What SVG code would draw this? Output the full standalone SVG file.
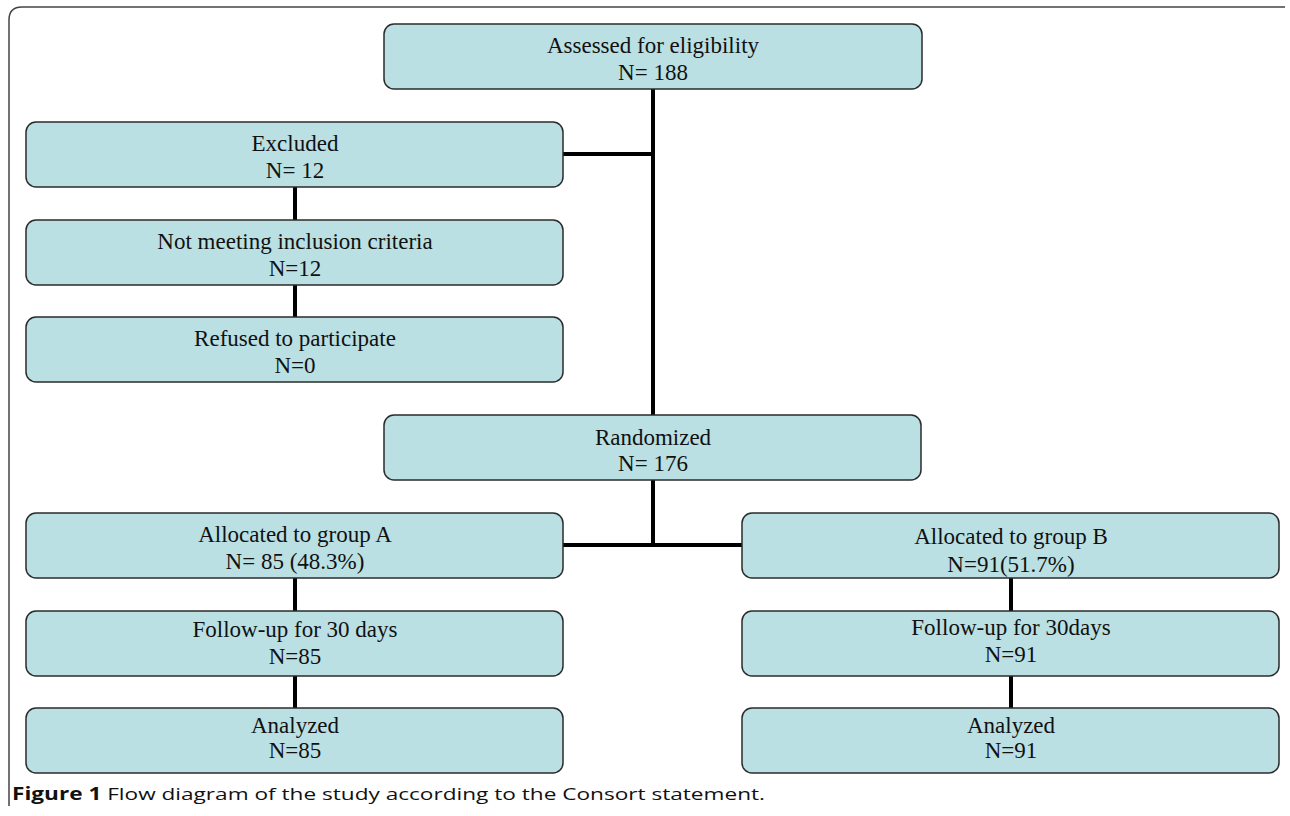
<svg xmlns="http://www.w3.org/2000/svg" width="1290" height="816" viewBox="0 0 1290 816">
<style>
.box{fill:#bae0e3;stroke:#2b2b2b;stroke-width:1.5}
.t{font-family:"Liberation Serif","Times New Roman",serif;font-size:23px;fill:#111;text-anchor:middle}
.c{stroke:#000;stroke-width:4;fill:none}
.cap{font-family:"Open Sans","Liberation Sans",sans-serif;font-size:17px;fill:#111}
</style>
<rect x="0" y="0" width="1290" height="816" fill="#fff"/>
<path d="M9 806 V20 Q9 7 22 7 H1285" fill="none" stroke="#444" stroke-width="1.5"/>
<g id="connectors">
<line class="c" x1="653" y1="89" x2="653" y2="415"/>
<line class="c" x1="563" y1="154" x2="653" y2="154"/>
<line class="c" x1="653" y1="480" x2="653" y2="545"/>
<line class="c" x1="563" y1="545" x2="742" y2="545"/>
<line class="c" x1="295" y1="187" x2="295" y2="220"/>
<line class="c" x1="295" y1="285" x2="295" y2="317"/>
<line class="c" x1="295" y1="578" x2="295" y2="611"/>
<line class="c" x1="295" y1="676" x2="295" y2="708"/>
<line class="c" x1="1011" y1="578" x2="1011" y2="611"/>
<line class="c" x1="1011" y1="676" x2="1011" y2="708"/>
</g>
<g id="assessed">
<rect class="box" x="384" y="24" width="538" height="65" rx="10"/>
<text class="t" x="653" y="53">Assessed for eligibility</text>
<text class="t" x="653" y="80">N= 188</text>
</g>
<g id="excluded">
<rect class="box" x="26" y="122" width="537" height="65" rx="10"/>
<text class="t" x="295" y="151">Excluded</text>
<text class="t" x="295" y="178">N= 12</text>
</g>
<g id="notmeeting">
<rect class="box" x="26" y="220" width="537" height="65" rx="10"/>
<text class="t" x="295" y="249">Not meeting inclusion criteria</text>
<text class="t" x="295" y="276">N=12</text>
</g>
<g id="refused">
<rect class="box" x="26" y="317" width="537" height="65" rx="10"/>
<text class="t" x="295" y="346">Refused to participate</text>
<text class="t" x="295" y="373">N=0</text>
</g>
<g id="randomized">
<rect class="box" x="384" y="415" width="537" height="65" rx="10"/>
<text class="t" x="653" y="445">Randomized</text>
<text class="t" x="653" y="471">N= 176</text>
</g>
<g id="allocA">
<rect class="box" x="26" y="513" width="537" height="65" rx="10"/>
<text class="t" x="295" y="542">Allocated to group A</text>
<text class="t" x="295" y="569">N= 85 (48.3%)</text>
</g>
<g id="allocB">
<rect class="box" x="742" y="513" width="537" height="65" rx="10"/>
<text class="t" x="1011" y="544">Allocated to group B</text>
<text class="t" x="1011" y="572">N=91(51.7%)</text>
</g>
<g id="followA">
<rect class="box" x="26" y="611" width="537" height="65" rx="10"/>
<text class="t" x="295" y="637">Follow-up for 30 days</text>
<text class="t" x="295" y="664">N=85</text>
</g>
<g id="followB">
<rect class="box" x="742" y="611" width="537" height="65" rx="10"/>
<text class="t" x="1011" y="635">Follow-up for 30days</text>
<text class="t" x="1011" y="662">N=91</text>
</g>
<g id="analyzedA">
<rect class="box" x="26" y="708" width="537" height="65" rx="10"/>
<text class="t" x="295" y="733">Analyzed</text>
<text class="t" x="295" y="758">N=85</text>
</g>
<g id="analyzedB">
<rect class="box" x="742" y="708" width="537" height="65" rx="10"/>
<text class="t" x="1011" y="733">Analyzed</text>
<text class="t" x="1011" y="758">N=91</text>
</g>
<text class="cap" x="12" y="800" textLength="753" lengthAdjust="spacingAndGlyphs"><tspan font-weight="bold">Figure 1</tspan> Flow diagram of the study according to the Consort statement.</text>
</svg>
